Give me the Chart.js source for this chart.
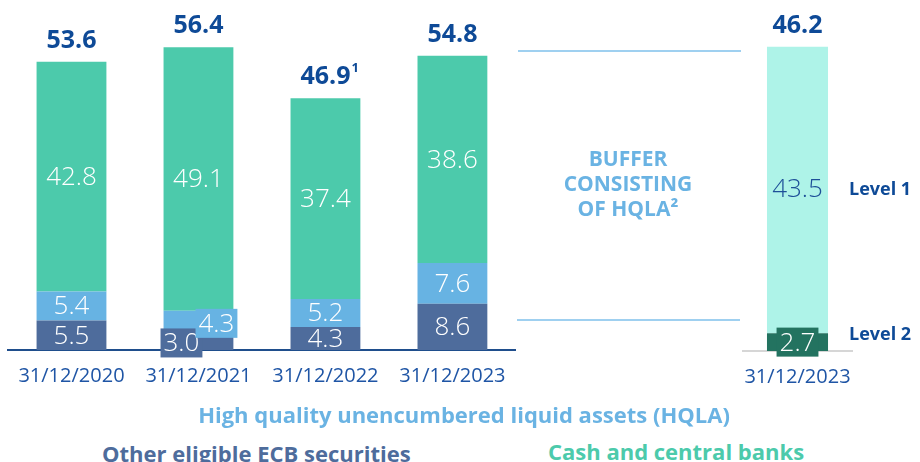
<!DOCTYPE html>
<html lang="en">
<head>
  <meta charset="UTF-8">
  <title>Liquidity buffer</title>
  <script src="https://cdn.jsdelivr.net/npm/chart.js"></script>
  <style>
    body {
      margin: 0;
      width: 920px;
      height: 462px;
      background: #ffffff;
      position: relative;
      overflow: hidden;
      font-family: "Open Sans", sans-serif;
    }
    .panel { position: absolute; top: 0; }
    .legend {
      position: absolute;
      font-weight: 700;
      font-size: 22px;
      line-height: 1;
      white-space: nowrap;
    }
  </style>
</head>
<body>
  <div class="panel" style="left:0; width:520px; height:402px;">
    <canvas id="historyChart" width="520" height="402"></canvas>
  </div>
  <div class="panel" style="left:510px; width:410px; height:403px;">
    <canvas id="bufferChart" width="410" height="403"></canvas>
  </div>

  <div class="legend" style="left:0; width:928px; text-align:center; top:403px; color:#6ab3e3;">High quality unencumbered liquid assets (HQLA)</div>
  <div class="legend" style="left:102px; top:442px; color:#4e6c9c;">Other eligible ECB securities</div>
  <div class="legend" style="left:548px; top:440px; color:#4ccaab;">Cash and central banks</div>

  <script>
    // year-end series, EUR bn
    const dates = ['31/12/2020', '31/12/2021', '31/12/2022', '31/12/2023'];
    const otherEcb = [5.5, 3.0, 4.3, 8.6];
    const hqla = [5.4, 4.3, 5.2, 7.6];
    const cashCentralBanks = [42.8, 49.1, 37.4, 38.6];
    const totals = [53.6, 56.4, 46.9, 54.8];
    const totalNotes = ['', '', '1', ''];

    // HQLA buffer split
    const bufferDate = ['31/12/2023'];
    const level2 = [2.7];
    const level1 = [43.5];
    const bufferTotal = [46.2];

    const NAVY = '#0e4a97';
    const AXIS_BLUE = '#1f55a5';
    const LIGHT = '300 26px "Open Sans", sans-serif';

    // small segments on the 2021 bar get their own boxed labels
    const boxedLabels = {
      '0-1': { dx: -17, dy: 1 },
      '1-1': { dx: 18, dy: 1 }
    };

    function drawBoxedText(ctx, text, x, y, fill, textColor) {
      ctx.font = LIGHT;
      const w = ctx.measureText(text).width + 6;
      const h = 29;
      ctx.fillStyle = fill;
      ctx.fillRect(x - w / 2, y - h / 2, w, h);
      ctx.fillStyle = textColor;
      ctx.fillText(text, x, y + 1);
    }

    const historyLabels = {
      id: 'historyLabels',
      afterDatasetsDraw(chart) {
        const ctx = chart.ctx;
        ctx.save();
        ctx.textAlign = 'center';
        ctx.textBaseline = 'middle';
        chart.data.datasets.forEach((ds, i) => {
          chart.getDatasetMeta(i).data.forEach((bar, j) => {
            const text = ds.data[j].toFixed(1);
            const cy = (bar.y + bar.base) / 2;
            const box = boxedLabels[i + '-' + j];
            if (box) {
              drawBoxedText(ctx, text, bar.x + box.dx, cy + box.dy, ds.backgroundColor, '#ffffff');
            } else {
              ctx.font = LIGHT;
              ctx.fillStyle = '#ffffff';
              ctx.fillText(text, bar.x, cy + 1);
            }
          });
        });
        // totals above each stack
        const top = chart.getDatasetMeta(chart.data.datasets.length - 1).data;
        top.forEach((bar, j) => {
          const text = totals[j].toFixed(1);
          ctx.font = '700 25px "Open Sans", sans-serif';
          ctx.fillStyle = NAVY;
          ctx.fillText(text, bar.x, bar.y - 21);
          if (totalNotes[j]) {
            const w = ctx.measureText(text).width;
            ctx.font = '700 13px "Open Sans", sans-serif';
            ctx.textAlign = 'left';
            ctx.fillText(totalNotes[j], bar.x + w / 2 + 1, bar.y - 30);
            ctx.textAlign = 'center';
          }
        });
        ctx.restore();
      }
    };

    new Chart(document.getElementById('historyChart'), {
      type: 'bar',
      data: {
        labels: dates,
        datasets: [
          { label: 'Other eligible ECB securities', data: otherEcb, backgroundColor: '#4e6c9c' },
          { label: 'High quality unencumbered liquid assets (HQLA)', data: hqla, backgroundColor: '#67b3e3' },
          { label: 'Cash and central banks', data: cashCentralBanks, backgroundColor: '#4ccaab' }
        ]
      },
      options: {
        responsive: false,
        animation: false,
        layout: { padding: { left: 8, right: 4, top: 1, bottom: 0 } },
        datasets: { bar: { barPercentage: 0.55, categoryPercentage: 1 } },
        plugins: { legend: { display: false }, tooltip: { enabled: false } },
        scales: {
          x: {
            stacked: true,
            grid: { display: false, drawTicks: false },
            border: { display: true, color: '#1f4e8c', width: 2 },
            ticks: { color: AXIS_BLUE, padding: 14, font: { family: '"Open Sans", sans-serif', size: 20 } }
          },
          y: { stacked: true, display: false, min: 0, max: 65 }
        }
      },
      plugins: [historyLabels]
    });

    const bufferLabels = {
      id: 'bufferLabels',
      beforeDatasetsDraw(chart) {
        const ctx = chart.ctx;
        ctx.save();
        // bracket lines and caption
        ctx.strokeStyle = '#9fd0f0';
        ctx.lineWidth = 2;
        ctx.beginPath();
        ctx.moveTo(8, 51); ctx.lineTo(231, 51);
        ctx.moveTo(7, 320); ctx.lineTo(230, 320);
        ctx.stroke();
        ctx.fillStyle = '#6ab3e3';
        ctx.textAlign = 'center';
        ctx.textBaseline = 'middle';
        ctx.font = '700 21px "Open Sans", sans-serif';
        ctx.fillText('BUFFER', 118, 160);
        ctx.fillText('CONSISTING', 118, 185);
        ctx.fillText('OF HQLA²', 118, 210);
        ctx.restore();
      },
      afterDatasetsDraw(chart) {
        const ctx = chart.ctx;
        ctx.save();
        ctx.textAlign = 'center';
        ctx.textBaseline = 'middle';
        const low = chart.getDatasetMeta(0).data[0];
        const high = chart.getDatasetMeta(1).data[0];
        const lowY = (low.y + low.base) / 2;
        const highY = (high.y + high.base) / 2;
        drawBoxedText(ctx, level2[0].toFixed(1), low.x, lowY, '#237360', '#ffffff');
        ctx.font = LIGHT;
        ctx.fillStyle = '#1d4f98';
        ctx.fillText(level1[0].toFixed(1), high.x, highY);
        ctx.font = '700 25px "Open Sans", sans-serif';
        ctx.fillStyle = NAVY;
        ctx.fillText(bufferTotal[0].toFixed(1), high.x, high.y - 21);
        ctx.font = '700 18px "Open Sans", sans-serif';
        ctx.textAlign = 'left';
        ctx.fillText('Level 1', 339, highY);
        ctx.fillText('Level 2', 339, lowY - 7);
        ctx.restore();
      }
    };

    new Chart(document.getElementById('bufferChart'), {
      type: 'bar',
      data: {
        labels: bufferDate,
        datasets: [
          { label: 'Level 2', data: level2, backgroundColor: '#237360' },
          { label: 'Level 1', data: level1, backgroundColor: '#aef3e8' }
        ]
      },
      options: {
        responsive: false,
        animation: false,
        layout: { padding: { left: 233, right: 68, top: 2, bottom: 0 } },
        datasets: { bar: { barPercentage: 0.56, categoryPercentage: 1 } },
        plugins: { legend: { display: false }, tooltip: { enabled: false } },
        scales: {
          x: {
            stacked: true,
            grid: { display: false, drawTicks: false },
            border: { display: true, color: '#d6d6d6', width: 2 },
            ticks: { color: AXIS_BLUE, padding: 14, font: { family: '"Open Sans", sans-serif', size: 20 } }
          },
          y: { stacked: true, display: false, min: 0, max: 53 }
        }
      },
      plugins: [bufferLabels]
    });
  </script>
</body>
</html>
